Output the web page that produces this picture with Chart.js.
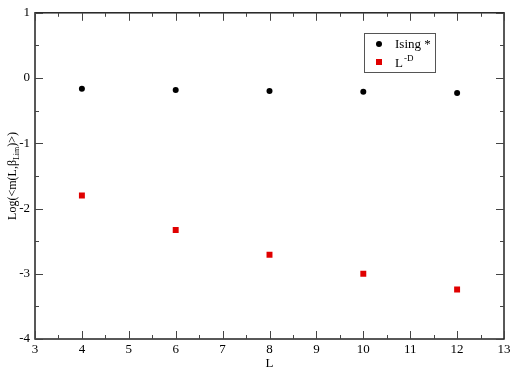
<!DOCTYPE html>
<html lang="en">
<head>
<meta charset="UTF-8">
<title>Log m vs L</title>
<script src="https://cdn.jsdelivr.net/npm/chart.js"></script>
<style>
    * { margin: 0; padding: 0; box-sizing: border-box; }
    body { background: #fff; }
    #wrap { width: 514px; height: 371px; }
</style>
</head>
<body>
<div id="wrap"><canvas id="chart" width="514" height="371"></canvas></div>
<script>
// data
const sizesL = [4, 6, 8, 10, 12];
const isingVals = [-0.166, -0.185, -0.20, -0.21, -0.23];
const powerVals = [-1.80, -2.33, -2.71, -3.00, -3.24];
const xTicks = [3, 4, 5, 6, 7, 8, 9, 10, 11, 12, 13];
const yTicks = [-4, -3, -2, -1, 0, 1];

const serif = "'Liberation Serif', 'DejaVu Serif', serif";

function pts(ys) {
    return sizesL.map((x, i) => ({ x: x, y: ys[i] }));
}

// frame, inward ticks, axis titles and legend
const decor = {
    id: 'decor',
    afterDraw(chart) {
        const ctx = chart.ctx;
        const a = chart.chartArea;
        const xs = chart.scales.x, ys = chart.scales.y;
        ctx.save();
        ctx.strokeStyle = '#222';
        ctx.lineWidth = 1.5;
        ctx.strokeRect(a.left, a.top, a.right - a.left, a.bottom - a.top);

        ctx.lineWidth = 1;
        ctx.strokeStyle = '#444';
        ctx.beginPath();
        for (let v = 3; v <= 13.001; v += 0.5) {
            const px = Math.round(xs.getPixelForValue(v)) + 0.5;
            const len = (Math.abs(v - Math.round(v)) < 1e-6) ? 8 : 4;
            ctx.moveTo(px, a.bottom); ctx.lineTo(px, a.bottom - len);
            ctx.moveTo(px, a.top); ctx.lineTo(px, a.top + len);
        }
        for (let v = -4; v <= 1.001; v += 0.5) {
            const py = Math.round(ys.getPixelForValue(v)) + 0.5;
            const len = (Math.abs(v - Math.round(v)) < 1e-6) ? 8 : 4;
            ctx.moveTo(a.left, py); ctx.lineTo(a.left + len, py);
            ctx.moveTo(a.right, py); ctx.lineTo(a.right - len, py);
        }
        ctx.stroke();

        // x title
        ctx.fillStyle = '#000';
        ctx.font = '13px ' + serif;
        ctx.textAlign = 'center';
        ctx.textBaseline = 'alphabetic';
        ctx.fillText('L', (a.left + a.right) / 2, 367);

        // y title with subscript
        ctx.save();
        ctx.translate(16, (a.top + a.bottom) / 2);
        ctx.rotate(-Math.PI / 2);
        const p1 = 'Log(<m(L,\u03b2', sub = 'Lim', p2 = ')>)';
        ctx.font = '12px ' + serif;
        const w1 = ctx.measureText(p1).width, w3 = ctx.measureText(p2).width;
        ctx.font = '8px ' + serif;
        const w2 = ctx.measureText(sub).width;
        let x0 = -(w1 + w2 + w3) / 2;
        ctx.textAlign = 'left';
        ctx.font = '12px ' + serif;
        ctx.fillText(p1, x0, 0);
        ctx.font = '8px ' + serif;
        ctx.fillText(sub, x0 + w1, 3);
        ctx.font = '12px ' + serif;
        ctx.fillText(p2, x0 + w1 + w2, 0);
        ctx.restore();

        // legend
        ctx.strokeStyle = '#555';
        ctx.lineWidth = 1;
        ctx.strokeRect(364.5, 33.5, 71, 39);
        ctx.fillStyle = '#000';
        ctx.beginPath();
        ctx.arc(379, 44, 3, 0, Math.PI * 2);
        ctx.fill();
        ctx.fillStyle = '#e00000';
        ctx.fillRect(376, 59, 6, 6);
        ctx.fillStyle = '#000';
        ctx.textAlign = 'left';
        ctx.font = '13px ' + serif;
        ctx.fillText('Ising *', 395, 48);
        ctx.fillText('L', 395, 67);
        ctx.font = '9px ' + serif;
        ctx.fillText('-D', 404, 61);
        ctx.restore();
    }
};

new Chart(document.getElementById('chart'), {
    type: 'scatter',
    data: {
        datasets: [
            {
                label: 'Ising *',
                data: pts(isingVals),
                pointStyle: 'circle',
                pointRadius: 3,
                backgroundColor: '#000',
                borderColor: '#000',
                borderWidth: 0
            },
            {
                label: 'L^-D',
                data: pts(powerVals),
                pointStyle: 'rect',
                pointRadius: 4.2,
                backgroundColor: '#e00000',
                borderColor: '#e00000',
                borderWidth: 0
            }
        ]
    },
    options: {
        responsive: false,
        animation: false,
        events: [],
        layout: { padding: { top: 10, right: 10, left: 0, bottom: 0 } },
        plugins: { legend: { display: false }, tooltip: { enabled: false } },
        scales: {
            x: {
                type: 'linear',
                min: 3, max: 13,
                afterBuildTicks(s) { s.ticks = xTicks.map(v => ({ value: v })); },
                afterFit(s) { s.height = 32; },
                grid: { display: false, drawTicks: false },
                border: { display: false },
                ticks: { color: '#000', padding: 3, maxRotation: 0, autoSkip: false, font: { family: serif, size: 13 } }
            },
            y: {
                type: 'linear',
                min: -4, max: 1,
                afterBuildTicks(s) { s.ticks = yTicks.map(v => ({ value: v })); },
                afterFit(s) { s.width = 35; },
                grid: { display: false, drawTicks: false },
                border: { display: false },
                ticks: { color: '#000', padding: 5, autoSkip: false, font: { family: serif, size: 13 } }
            }
        }
    },
    plugins: [decor]
});
</script>
</body>
</html>
